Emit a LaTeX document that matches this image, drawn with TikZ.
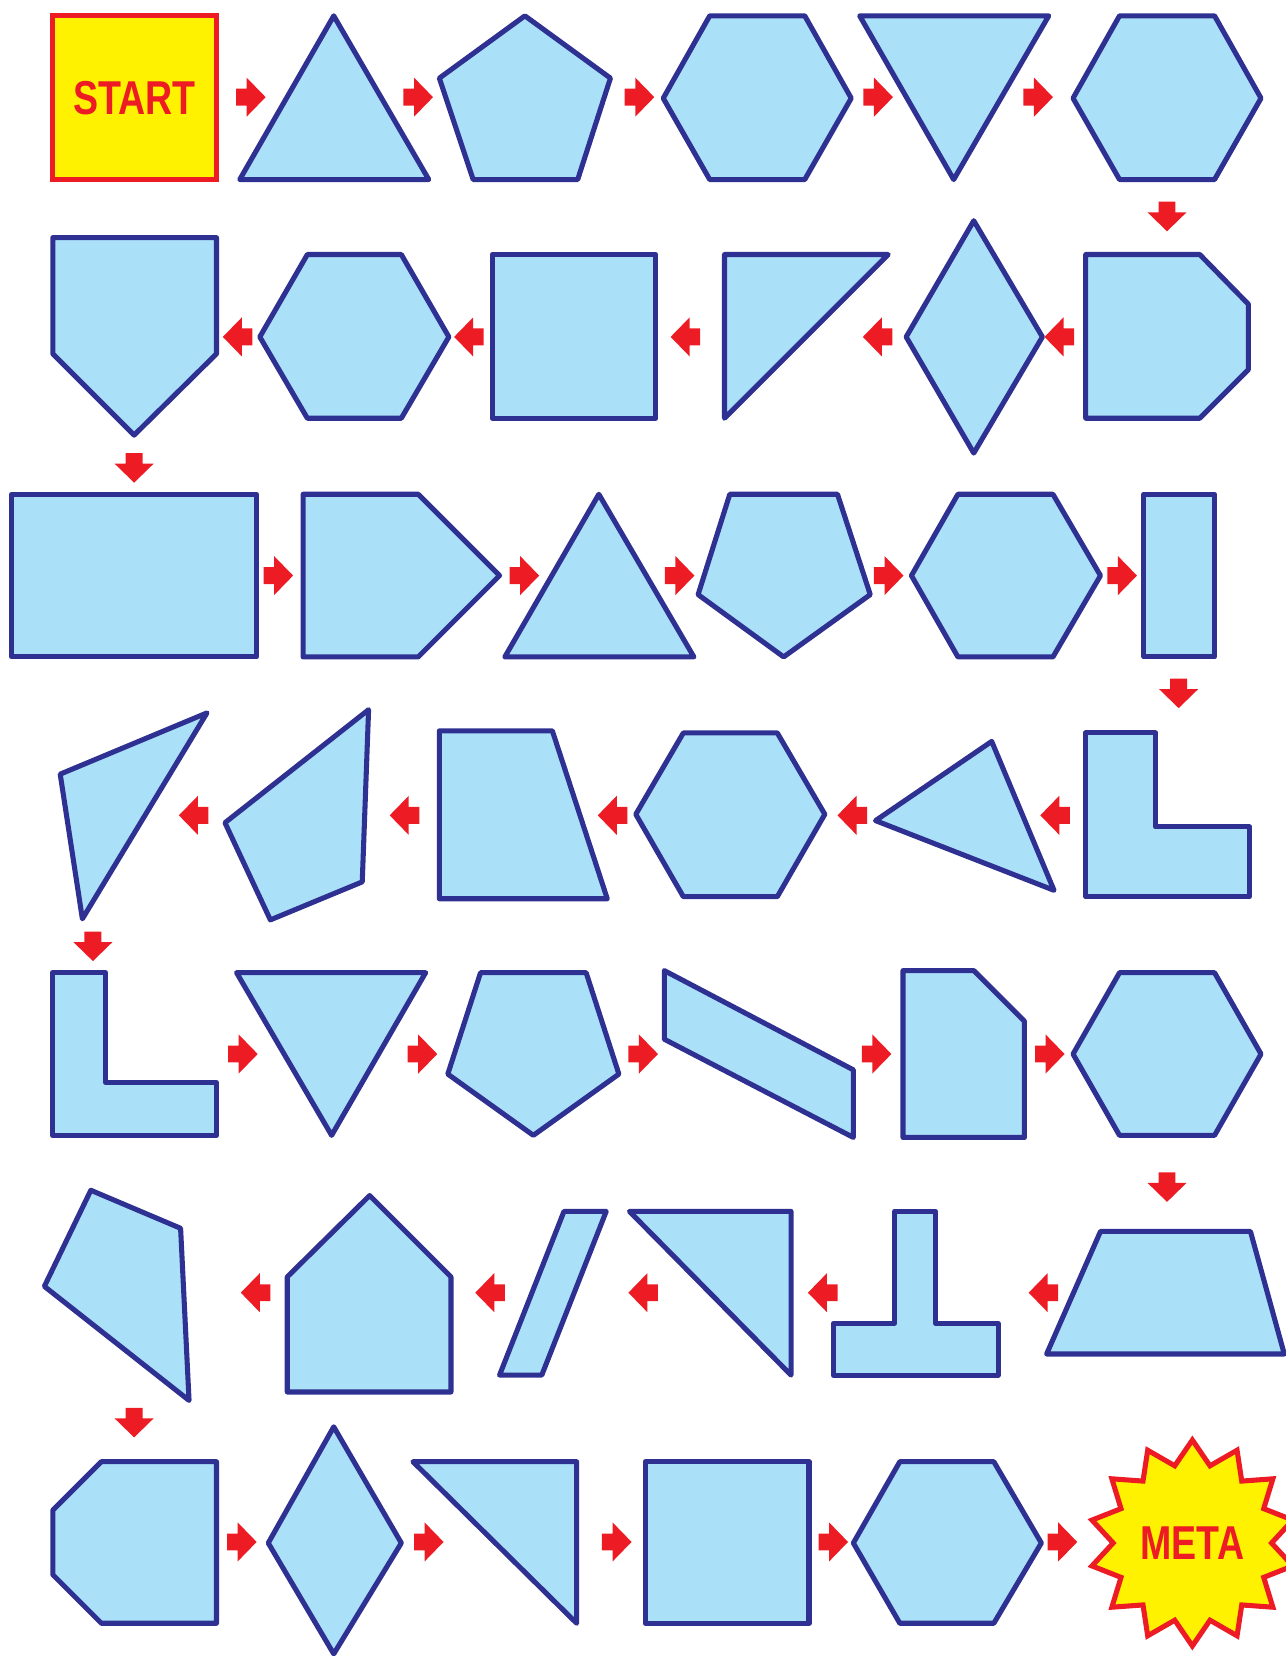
\documentclass[tikz,border=0pt]{standalone}
\usepackage{fontspec}
\usepackage{graphicx}
\newfontfamily\labelfont{Liberation Sans}
\definecolor{sblue}{RGB}{46,49,146}
\definecolor{sfill}{RGB}{171,224,249}
\definecolor{ared}{RGB}{237,28,36}
\definecolor{ayel}{RGB}{255,242,0}
\tikzset{
  shp/.style={draw=sblue,fill=sfill,line width=2.4pt,line join=round},
  goalshape/.style={draw=ared,fill=ayel,line width=2.4pt,line join=miter},
  lbl/.style={text=ared,font=\labelfont\fontsize{22.5}{26}\selectfont\bfseries,inner sep=0pt},
  startbox/.style={lbl,draw=ared,fill=ayel,line width=2.4pt,minimum width=77.5pt,minimum height=77.5pt},
  rarrow/.pic={\fill[ared] (-14,-8) -- (-4,-8) -- (-4,-18.5) -- (14,0) -- (-4,18.5) -- (-4,8) -- (-14,8) -- cycle;},
  larrow/.pic={\fill[ared] (14,-8) -- (4,-8) -- (4,-18.5) -- (-14,0) -- (4,18.5) -- (4,8) -- (14,8) -- cycle;},
  darrow/.pic={\fill[ared] (-8,-14) -- (-8,-4) -- (-18.5,-4) -- (0,14) -- (18.5,-4) -- (8,-4) -- (8,-14) -- cycle;}
}
\begin{document}
\begin{tikzpicture}[x=0.5pt,y=-0.5pt]
\useasboundingbox (0,0) rectangle (1217,1568);
% Row 1
\node[startbox] (start) at (127.5,92.5) {\scalebox{0.79}[1]{START}};
\draw[shp] (227,170) -- (316,15) -- (406,170) -- cycle;
\draw[shp] (497,15) -- (578,74) -- (547,170) -- (448,170) -- (416,74) -- cycle;
\draw[shp] (628,93) -- (672,15) -- (762,15) -- (806,93) -- (762,170) -- (672,170) -- cycle;
\draw[shp] (814,15) -- (993,15) -- (903,170) -- cycle;
\draw[shp] (1016,93) -- (1060,15) -- (1150,15) -- (1194,93) -- (1150,170) -- (1060,170) -- cycle;
\pic at (237.5,92) {rarrow};
\pic at (396,92) {rarrow};
\pic at (605.5,92) {rarrow};
\pic at (831.5,92) {rarrow};
\pic at (983,92) {rarrow};
\pic at (1105,205) {darrow};
% Row 2
\draw[shp] (50,225) -- (205,225) -- (205,335) -- (127,412) -- (50,335) -- cycle;
\draw[shp] (246,319) -- (291,241) -- (380,241) -- (425,319) -- (380,396) -- (291,396) -- cycle;
\draw[shp] (466,241) rectangle (621,396);
\draw[shp] (686,241) -- (841,241) -- (686,396) -- cycle;
\draw[shp] (922,209) -- (987,319) -- (922,429) -- (858,319) -- cycle;
\draw[shp] (1028,241) -- (1136,241) -- (1182,288) -- (1182,350) -- (1136,396) -- (1028,396) -- cycle;
\pic at (225,319) {larrow};
\pic at (444,319) {larrow};
\pic at (649,319) {larrow};
\pic at (831,319) {larrow};
\pic at (1003,319) {larrow};
\pic at (127,443) {darrow};
% Row 3
\draw[shp] (11,468) rectangle (243,622);
\draw[shp] (287,468) -- (396,468) -- (473,545) -- (396,622) -- (287,622) -- cycle;
\draw[shp] (478,622) -- (567,468) -- (657,622) -- cycle;
\draw[shp] (691,468) -- (793,468) -- (824,563) -- (742,622) -- (661,563) -- cycle;
\draw[shp] (863,545) -- (907,468) -- (997,468) -- (1042,545) -- (997,622) -- (907,622) -- cycle;
\draw[shp] (1083,468) rectangle (1150,622);
\pic at (263.5,545) {rarrow};
\pic at (496.5,545) {rarrow};
\pic at (643.5,545) {rarrow};
\pic at (841.5,545) {rarrow};
\pic at (1062.5,545) {rarrow};
\pic at (1116,656.5) {darrow};
% Row 4
\draw[shp] (1028,694) -- (1094,694) -- (1094,783) -- (1183,783) -- (1183,849) -- (1028,849) -- cycle;
\draw[shp] (829,777) -- (939,702) -- (998,843) -- cycle;
\draw[shp] (602,771) -- (647,694) -- (736,694) -- (781,771) -- (736,849) -- (647,849) -- cycle;
\draw[shp] (416,692) -- (523,692) -- (575,851) -- (416,851) -- cycle;
\draw[shp] (213,779) -- (349,672) -- (343,835) -- (256,871) -- cycle;
\draw[shp] (57,733) -- (196,675) -- (78,870) -- cycle;
\pic at (999,772) {larrow};
\pic at (807,772) {larrow};
\pic at (580,772) {larrow};
\pic at (383,772) {larrow};
\pic at (183.4,772) {larrow};
\pic at (88,896) {darrow};
% Row 5
\draw[shp] (50,921) -- (100,921) -- (100,1025) -- (205,1025) -- (205,1075) -- (50,1075) -- cycle;
\draw[shp] (224,921) -- (403,921) -- (314,1075) -- cycle;
\draw[shp] (455,921) -- (555,921) -- (586,1017) -- (505,1075) -- (424,1017) -- cycle;
\draw[shp] (629,919) -- (808,1013) -- (808,1077) -- (629,984) -- cycle;
\draw[shp] (855,919) -- (922,919) -- (970,967) -- (970,1077) -- (855,1077) -- cycle;
\draw[shp] (1016,998) -- (1060,921) -- (1150,921) -- (1194,998) -- (1150,1075) -- (1060,1075) -- cycle;
\pic at (230,998) {rarrow};
\pic at (400,998) {rarrow};
\pic at (609,998) {rarrow};
\pic at (830,998) {rarrow};
\pic at (994,998) {rarrow};
\pic at (1105,1124) {darrow};
% Row 6
\draw[shp] (1042,1166) -- (1184,1166) -- (1216,1282) -- (991,1282) -- cycle;
\draw[shp] (847,1147) -- (886,1147) -- (886,1253) -- (945,1253) -- (945,1302) -- (789,1302) -- (789,1253) -- (847,1253) -- cycle;
\draw[shp] (596,1147) -- (749,1147) -- (749,1302) -- cycle;
\draw[shp] (534,1147) -- (574,1147) -- (513,1302) -- (473,1302) -- cycle;
\draw[shp] (350,1132) -- (427,1209) -- (427,1318) -- (272,1318) -- (272,1209) -- cycle;
\draw[shp] (86,1127) -- (171,1163) -- (179,1326) -- (42,1218) -- cycle;
\pic at (988,1224) {larrow};
\pic at (779,1224) {larrow};
\pic at (609,1224) {larrow};
\pic at (464,1224) {larrow};
\pic at (242,1224) {larrow};
\pic at (127,1347) {darrow};
% Row 7
\draw[shp] (96,1384) -- (205,1384) -- (205,1537) -- (96,1537) -- (50,1491) -- (50,1430) -- cycle;
\draw[shp] (316,1351) -- (380,1461) -- (316,1566) -- (254,1461) -- cycle;
\draw[shp] (391,1384) -- (546,1384) -- (546,1537) -- cycle;
\draw[shp] (611,1384) rectangle (766,1537);
\draw[shp] (808,1461) -- (852,1384) -- (941,1384) -- (986,1461) -- (941,1537) -- (852,1537) -- cycle;
\pic at (229,1460) {rarrow};
\pic at (406,1460) {rarrow};
\pic at (584,1460) {rarrow};
\pic at (789,1460) {rarrow};
\pic at (1006,1460) {rarrow};
\begin{scope}[shift={(1129,1461)}]
  \draw[goalshape] (90:97.5) \foreach \i in {1,3,...,27}{ -- ({90+\i*360/28}:75) -- ({90+(\i+1)*360/28}:97.5)} -- cycle;
  \node[lbl] (meta) at (0,0) {\scalebox{0.79}[1]{META}};
\end{scope}
\end{tikzpicture}
\end{document}
